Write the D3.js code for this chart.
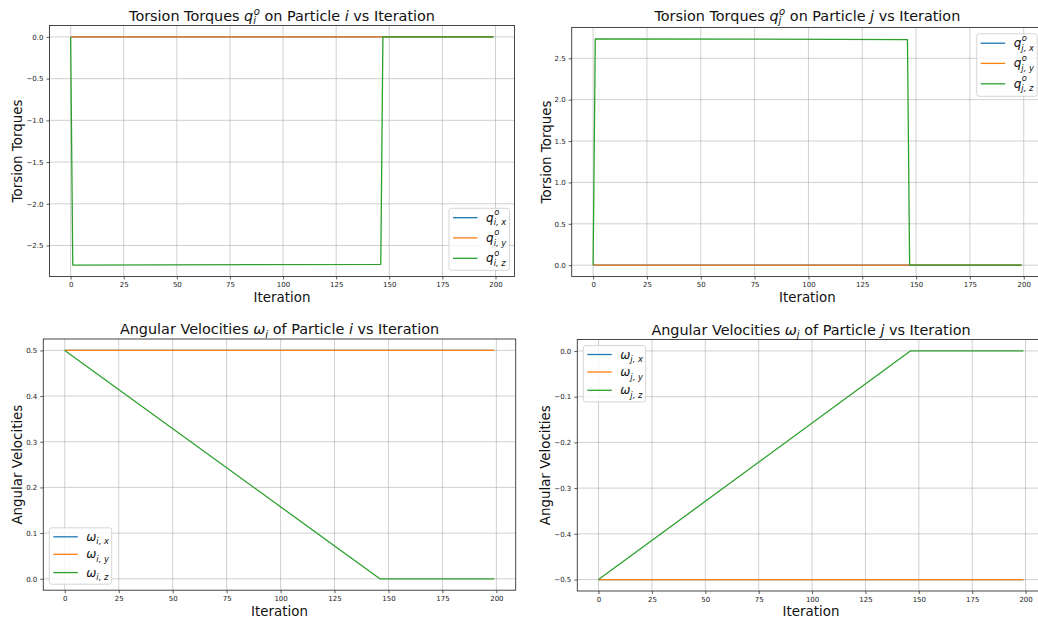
<!DOCTYPE html>
<html>
<head>
<meta charset="utf-8">
<script src="https://cdn.jsdelivr.net/npm/d3@7"></script>
<style>
  body { margin: 0; background: #fff; }
  svg { display: block; font-family: "DejaVu Sans", sans-serif; }
  text { white-space: pre; }
</style>
</head>
<body>
<svg id="fig" width="1038" height="622"></svg>
<script>
// ---- data: each series is a set of (iteration, value) vertices ----
const iterTicks = [0, 25, 50, 75, 100, 125, 150, 175, 200];

// torsion torque on particle i
const qIxIter = [0, 199], qIx = [0, 0];
const qIyIter = [0, 199], qIy = [0, 0];
const qIzIter = [0, 1, 146, 147, 199], qIz = [0, -2.735, -2.726, 0, 0];
const qITicks = [0, -0.5, -1.0, -1.5, -2.0, -2.5];

// torsion torque on particle j
const qJxIter = [0, 199], qJx = [0, 0];
const qJyIter = [0, 199], qJy = [0, 0];
const qJzIter = [0, 1, 146, 147, 199], qJz = [0, 2.735, 2.726, 0, 0];
const qJTicks = [0, 0.5, 1.0, 1.5, 2.0, 2.5];

// angular velocity of particle i
const wIxIter = [0, 199], wIx = [0.5, 0.5];
const wIyIter = [0, 199], wIy = [0.5, 0.5];
const wIzIter = [0, 146, 199], wIz = [0.5, 0, 0];
const wITicks = [0, 0.1, 0.2, 0.3, 0.4, 0.5];

// angular velocity of particle j
const wJxIter = [0, 199], wJx = [-0.5, -0.5];
const wJyIter = [0, 199], wJy = [-0.5, -0.5];
const wJzIter = [0, 146, 199], wJz = [-0.5, 0, 0];
const wJTicks = [-0.5, -0.4, -0.3, -0.2, -0.1, 0];

const colors = ["#1f77b4", "#ff7f0e", "#2ca02c"];

const svg = d3.select("#fig");

// place a run of plain and math pieces; returns nothing, positions group
function rich(parent, x, y, parts, fs, anchor, opts) {
  const o = Object.assign({ supUp: 0.4, subDown: 0.23 }, opts || {});
  const g = parent.append("g");
  let cx = 0;
  parts.forEach(p => {
    if (typeof p === "string") {
      const t = g.append("text").attr("x", cx).attr("y", 0)
        .attr("font-size", fs).text(p.replace(/ /g, "\u00A0"));
      cx += t.node().getComputedTextLength();
    } else {
      const b = g.append("text").attr("x", cx).attr("y", 0)
        .attr("font-size", fs).attr("font-style", "italic").text(p.base);
      cx += b.node().getComputedTextLength();
      let w = 0;
      if (p.sup) {
        const s = g.append("text").attr("x", cx + 0.5).attr("y", -o.supUp * fs)
          .attr("font-size", fs * 0.7).attr("font-style", "italic").text(p.sup);
        w = Math.max(w, s.node().getComputedTextLength() + 0.5);
      }
      if (p.sub) {
        const s = g.append("text").attr("x", cx).attr("y", o.subDown * fs)
          .attr("font-size", fs * 0.7).attr("font-style", "italic")
          .text(p.sub.replace(/ /g, "\u00A0"));
        w = Math.max(w, s.node().getComputedTextLength());
      }
      cx += w;
    }
  });
  const off = anchor === "middle" ? -cx / 2 : 0;
  g.attr("transform", `translate(${x + off},${y})`);
  g.selectAll("text").attr("fill", "#111");
  return g;
}

const fmt = v => (v < 0 ? "\u2212" : "") + Math.abs(v).toFixed(1);

function panel(cfg) {
  const { box, series, yTicks, title, ylabel, legend } = cfg;
  const allVals = series.flatMap(s => s.vals);
  const allIts = series.flatMap(s => s.its);
  const [vmin, vmax] = d3.extent(allVals);
  const [imin, imax] = d3.extent(allIts);
  const vp = (vmax - vmin) * 0.05, ip = (imax - imin) * 0.05;

  const x = d3.scaleLinear().domain([imin - ip, imax + ip]).range([box.l, box.r]);
  const y = d3.scaleLinear().domain([vmin - vp, vmax + vp]).range([box.b, box.t]);

  const g = svg.append("g");
  const clipId = "clip" + Math.round(box.l) + "_" + Math.round(box.t);
  g.append("clipPath").attr("id", clipId).append("rect")
    .attr("x", box.l).attr("y", box.t).attr("width", box.r - box.l).attr("height", box.b - box.t);

  // grid
  const grid = g.append("g").attr("stroke", "#b0b0b0").attr("stroke-width", 0.8).attr("stroke-opacity", 0.75);
  iterTicks.forEach(t => grid.append("line").attr("x1", x(t)).attr("x2", x(t)).attr("y1", box.t).attr("y2", box.b));
  yTicks.forEach(t => grid.append("line").attr("x1", box.l).attr("x2", box.r).attr("y1", y(t)).attr("y2", y(t)));

  // series lines
  const line = d3.line().x(d => x(d[0])).y(d => y(d[1]));
  const lg = g.append("g").attr("clip-path", `url(#${clipId})`);
  series.forEach((s, i) => {
    lg.append("path").datum(d3.zip(s.its, s.vals)).attr("d", line)
      .attr("fill", "none").attr("stroke", colors[i]).attr("stroke-width", 1.3)
      .attr("stroke-linejoin", "round");
  });

  // axes via d3 axis generators
  const xa = d3.axisBottom(x).tickValues(iterTicks).tickSize(3).tickPadding(3).tickFormat(d3.format("d"));
  const ya = d3.axisLeft(y).tickValues(yTicks).tickSize(3).tickPadding(3).tickFormat(fmt);
  const gx = g.append("g").attr("transform", `translate(0,${box.b})`).call(xa);
  const gy = g.append("g").attr("transform", `translate(${box.l},0)`).call(ya);
  [gx, gy].forEach(a => {
    a.select(".domain").remove();
    a.selectAll(".tick line").attr("stroke", "#333").attr("stroke-width", 0.8);
    a.selectAll(".tick text").attr("font-size", 7).attr("fill", "#222")
      .attr("font-family", "DejaVu Sans, sans-serif");
  });

  // frame
  g.append("rect").attr("x", box.l).attr("y", box.t).attr("width", box.r - box.l).attr("height", box.b - box.t)
    .attr("fill", "none").attr("stroke", "#333").attr("stroke-width", 0.9);

  // title and axis labels
  const cxm = (box.l + box.r) / 2;
  rich(g, cxm, cfg.titleY, title, 14.4, "middle");
  g.append("text").attr("x", cxm).attr("y", cfg.xlabelY).attr("text-anchor", "middle")
    .attr("font-size", 13.4).attr("fill", "#111").text("Iteration");
  g.append("text").attr("transform", `translate(${cfg.ylabelX},${(box.t + box.b) / 2}) rotate(-90)`)
    .attr("text-anchor", "middle").attr("dominant-baseline", "central")
    .attr("font-size", 13.4).attr("fill", "#111").text(ylabel);

  // legend
  const L = legend;
  const lgd = g.append("g");
  lgd.append("rect").attr("x", L.x).attr("y", L.y).attr("width", L.w).attr("height", L.h)
    .attr("rx", 2.5).attr("fill", "#fff").attr("fill-opacity", 0.8)
    .attr("stroke", "#cccccc").attr("stroke-width", 0.8);
  L.labels.forEach((lab, i) => {
    const ry = L.y + L.rows[i];
    lgd.append("line").attr("x1", L.x + 4).attr("x2", L.x + 28.5).attr("y1", ry).attr("y2", ry)
      .attr("stroke", colors[i]).attr("stroke-width", 1.3);
    rich(lgd, L.x + 37, ry + 4, [lab], 12, "start", { supUp: 0.55, subDown: 0.3 });
  });
}

const qRows = [9.4, 29.6, 50];
const wRows = [9, 26.5, 44.8];

panel({
  box: { l: 49.5, r: 514.5, t: 25.5, b: 276.5 },
  series: [{ its: qIxIter, vals: qIx }, { its: qIyIter, vals: qIy }, { its: qIzIter, vals: qIz }],
  yTicks: qITicks,
  title: ["Torsion Torques ", { base: "q", sup: "o", sub: "i" }, " on Particle ", { base: "i" }, " vs Iteration"],
  titleY: 20.7, xlabelY: 302, ylabelX: 17, ylabel: "Torsion Torques",
  legend: { x: 449, y: 208.3, w: 60.5, h: 62, rows: qRows,
    labels: [{ base: "q", sup: "o", sub: "i, x" }, { base: "q", sup: "o", sub: "i, y" }, { base: "q", sup: "o", sub: "i, z" }] }
});

panel({
  box: { l: 571.7, r: 1043, t: 27.5, b: 276.5 },
  series: [{ its: qJxIter, vals: qJx }, { its: qJyIter, vals: qJy }, { its: qJzIter, vals: qJz }],
  yTicks: qJTicks,
  title: ["Torsion Torques ", { base: "q", sup: "o", sub: "j" }, " on Particle ", { base: "j" }, " vs Iteration"],
  titleY: 20.7, xlabelY: 302, ylabelX: 546, ylabel: "Torsion Torques",
  legend: { x: 976.7, y: 33.8, w: 60.5, h: 62.5, rows: qRows,
    labels: [{ base: "q", sup: "o", sub: "j, x" }, { base: "q", sup: "o", sub: "j, y" }, { base: "q", sup: "o", sub: "j, z" }] }
});

panel({
  box: { l: 43.3, r: 515.7, t: 339, b: 590.2 },
  series: [{ its: wIxIter, vals: wIx }, { its: wIyIter, vals: wIy }, { its: wIzIter, vals: wIz }],
  yTicks: wITicks,
  title: ["Angular Velocities ", { base: "\u03C9", sub: "i" }, " of Particle ", { base: "i" }, " vs Iteration"],
  titleY: 334.3, xlabelY: 615.5, ylabelX: 17, ylabel: "Angular Velocities",
  legend: { x: 49.3, y: 527.8, w: 62.4, h: 56.4, rows: wRows,
    labels: [{ base: "\u03C9", sub: "i, x" }, { base: "\u03C9", sub: "i, y" }, { base: "\u03C9", sub: "i, z" }] }
});

panel({
  box: { l: 577.3, r: 1044.7, t: 339.5, b: 591 },
  series: [{ its: wJxIter, vals: wJx }, { its: wJyIter, vals: wJy }, { its: wJzIter, vals: wJz }],
  yTicks: wJTicks,
  title: ["Angular Velocities ", { base: "\u03C9", sub: "j" }, " of Particle ", { base: "j" }, " vs Iteration"],
  titleY: 335, xlabelY: 615.5, ylabelX: 545, ylabel: "Angular Velocities",
  legend: { x: 583.3, y: 345.5, w: 62.4, h: 56.4, rows: wRows,
    labels: [{ base: "\u03C9", sub: "j, x" }, { base: "\u03C9", sub: "j, y" }, { base: "\u03C9", sub: "j, z" }] }
});
</script>
</body>
</html>
